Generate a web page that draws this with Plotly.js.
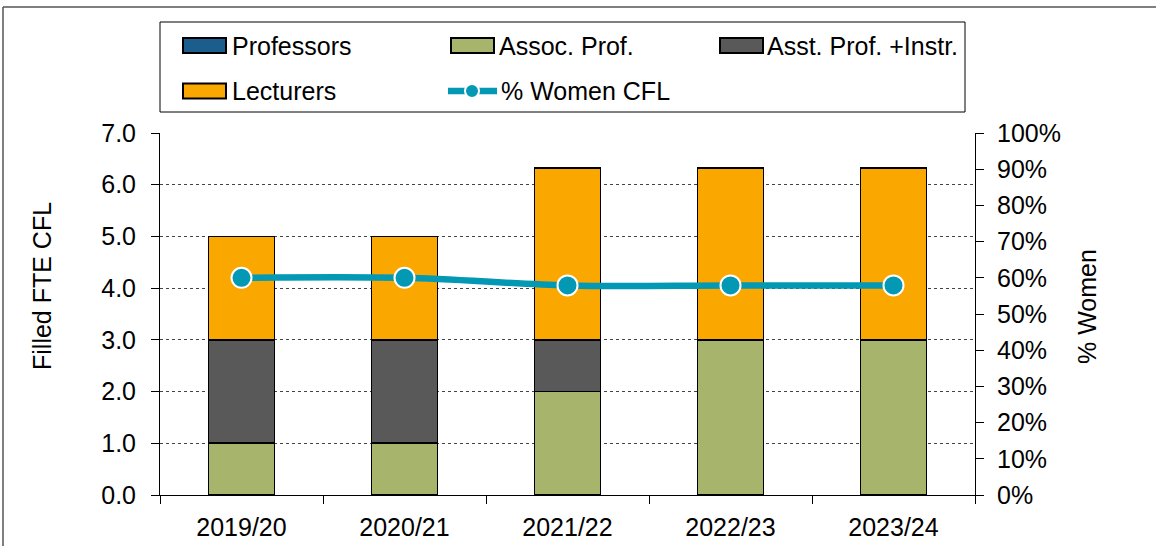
<!DOCTYPE html>
<html>
<head>
<meta charset="utf-8">
<script src="https://cdn.plot.ly/plotly-3.0.1.min.js"></script>
<style>html,body{margin:0;padding:0;background:#fff;}#chart{width:1156px;height:546px;}</style>
</head>
<body>
<div id="chart"></div>
<script>
const years = ["2019/20", "2020/21", "2021/22", "2022/23", "2023/24"];
const professors = [0, 0, 0, 0, 0];
const assocProf = [1, 1, 2, 3, 3];
const asstProfInstr = [2, 2, 1, 0, 0];
const lecturers = [2, 2, 3.33, 3.33, 3.33];
const pctWomen = [0.60, 0.60, 0.579, 0.579, 0.579];
const seriesNames = ["Professors", "Assoc. Prof.", "Asst. Prof. +Instr.", "Lecturers", "% Women CFL"];
const seriesColors = ["#1B5E8E", "#A6B46C", "#595959", "#FAA700", "#0399B4"];

const FONT = "Liberation Sans, Arial, sans-serif";
const FS = 25;
const L = 160, R = 975, T = 133, B = 495, W = 1156, H = 546;
const px = x => (x - L) / (R - L);
const py = y => (B - y) / (B - T);

const barLine = {color: "#000", width: 1.8};
const barSeries = [professors, assocProf, asstProfInstr, lecturers];
const traces = barSeries.map((vals, i) => ({
  type: "bar", name: seriesNames[i], x: years, y: vals,
  marker: {color: seriesColors[i], line: barLine}
}));
traces.push({type: "scatter", mode: "lines+markers", name: seriesNames[4], x: years, y: pctWomen, yaxis: "y2",
  line: {color: seriesColors[4], width: 6.5, shape: "spline"},
  marker: {color: seriesColors[4], size: 20, line: {color: "#fff", width: 2}}});

// legend drawn as decoration (swatch geometry in pixels)
const legendItems = [
  {sw: 183, tx: 232, cy: 45.5, kind: "box", i: 0},
  {sw: 451, tx: 499, cy: 45.5, kind: "box", i: 1},
  {sw: 720, tx: 767, cy: 45.5, kind: "box", i: 2},
  {sw: 183, tx: 232, cy: 91, kind: "box", i: 3},
  {sw: 448, tx: 501, cy: 91, kind: "line", i: 4}
];
const shapes = [
  {type: "rect", xref: "paper", yref: "paper", x0: px(160), x1: px(965), y0: py(112), y1: py(22),
   line: {color: "#000", width: 1}, fillcolor: "rgba(0,0,0,0)", layer: "below"},
  {type: "line", xref: "paper", yref: "paper", x0: px(3), x1: px(1156), y0: py(7), y1: py(7),
   line: {color: "#555", width: 1.5}},
  {type: "line", xref: "paper", yref: "paper", x0: px(3), x1: px(3), y0: py(7), y1: py(546),
   line: {color: "#555", width: 1.5}}
];
const annotations = [
  {text: "Filled FTE CFL", xref: "paper", yref: "paper", x: px(42), y: py(286), textangle: -90,
   showarrow: false, xanchor: "center", yanchor: "middle", font: {family: FONT, size: FS}},
  {text: "% Women", xref: "paper", yref: "paper", x: px(1087), y: py(307), textangle: -90,
   showarrow: false, xanchor: "center", yanchor: "middle", font: {family: FONT, size: FS}}
];
legendItems.forEach(it => {
  if (it.kind === "box") {
    shapes.push({type: "rect", xref: "paper", yref: "paper", x0: px(it.sw), x1: px(it.sw + 43),
      y0: py(it.cy + 7.5), y1: py(it.cy - 7.5), fillcolor: seriesColors[it.i], line: {color: "#000", width: 2}});
  } else {
    shapes.push({type: "line", xref: "paper", yref: "paper", x0: px(it.sw), x1: px(it.sw + 49),
      y0: py(it.cy), y1: py(it.cy), line: {color: seriesColors[it.i], width: 6.5}});
    shapes.push({type: "circle", xref: "paper", yref: "paper", x0: px(it.sw + 17), x1: px(it.sw + 31),
      y0: py(it.cy + 7), y1: py(it.cy - 7), fillcolor: seriesColors[it.i], line: {color: "#fff", width: 2}});
  }
  annotations.push({text: seriesNames[it.i], xref: "paper", yref: "paper", x: px(it.tx), y: py(it.cy),
    xanchor: "left", yanchor: "middle", showarrow: false, xshift: -2, font: {family: FONT, size: FS}});
});

const layout = {
  width: W, height: H,
  margin: {l: L, r: W - R, t: T, b: H - B, pad: 0},
  paper_bgcolor: "#fff", plot_bgcolor: "#fff",
  font: {family: FONT, size: FS, color: "#000"},
  barmode: "stack", bargap: 0.595,
  showlegend: false,
  xaxis: {type: "category", showline: true, linecolor: "#000", linewidth: 1,
          ticks: "outside", tickson: "boundaries", ticklen: 8, tickcolor: "#000", ticklabelstandoff: 10,
          showgrid: false, tickfont: {family: FONT, size: FS}},
  yaxis: {range: [0, 7], dtick: 1, tickformat: ".1f", showline: true, linecolor: "#000", linewidth: 1,
          ticks: "outside", ticklen: 8, tickcolor: "#000", ticklabelstandoff: 10,
          showgrid: true, gridcolor: "#444", griddash: "dot", gridwidth: 1, zeroline: false,
          tickfont: {family: FONT, size: FS}},
  yaxis2: {range: [0, 1], dtick: 0.1, tickformat: ".0%", overlaying: "y", side: "right",
           showline: true, linecolor: "#000", linewidth: 1, ticks: "outside", ticklen: 8, tickcolor: "#000",
           ticklabelstandoff: 8, showgrid: false, zeroline: false, tickfont: {family: FONT, size: FS}},
  shapes: shapes,
  annotations: annotations
};

Plotly.newPlot("chart", traces, layout, {displayModeBar: false, staticPlot: true});
</script>
</body>
</html>
